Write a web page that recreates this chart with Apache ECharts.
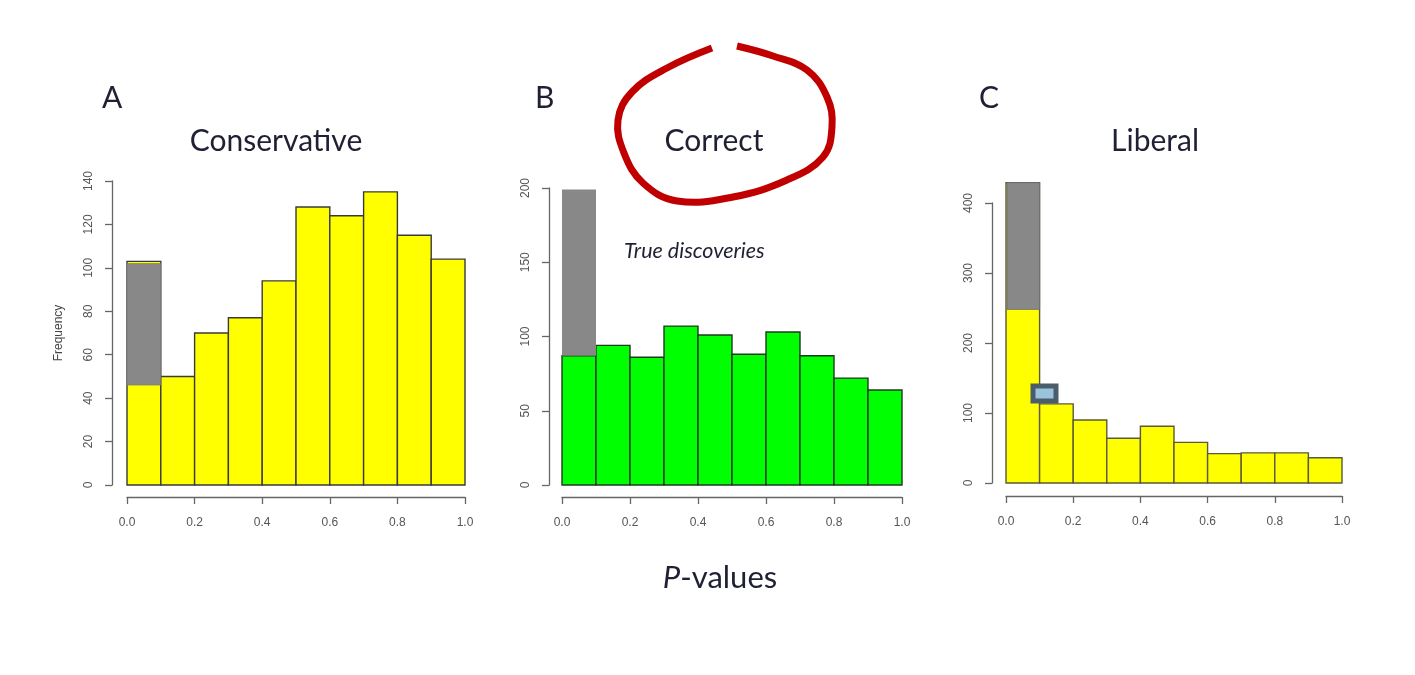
<!DOCTYPE html>
<html>
<head>
<meta charset="utf-8">
<script src="https://cdn.jsdelivr.net/npm/echarts@6/dist/echarts.min.js"></script>
<style>
  html, body { margin: 0; padding: 0; background: #fff; }
  #main { width: 1415px; height: 675px; }
</style>
</head>
<body>
<div id="main"></div>
<script>
// bins of width 0.1 on [0, 1]
var binStarts = [0.0, 0.1, 0.2, 0.3, 0.4, 0.5, 0.6, 0.7, 0.8, 0.9];

// A: conservative (first bin total, grey part drawn on top)
var consCounts = [103, 50, 70, 77, 94, 128, 124, 135, 115, 104];
var consTrue = [46, 102];

// B: correct (first bin green part, grey true discoveries above)
var corrCounts = [87, 94, 86, 107, 101, 88, 103, 87, 72, 64];
var corrTrue = [87, 199];

// C: liberal
var libCounts = [429, 113, 90, 64, 81, 58, 42, 43, 43, 36];
var libTrue = [248, 429];

var tickFont = 'Liberation Sans';
var titleFont = 'Lato';

function binData(counts) {
    return counts.map(function (c, i) {
        return [binStarts[i], binStarts[i] + 0.1, 0, c];
    });
}

function makeRender(stroke, lw) {
    return function (params, api) {
        var p0 = api.coord([api.value(0), api.value(3)]);
        var p1 = api.coord([api.value(1), api.value(2)]);
        return {
            type: 'rect',
            shape: { x: p0[0], y: p0[1], width: p1[0] - p0[0], height: p1[1] - p0[1] },
            style: { fill: api.visual('color'), stroke: stroke, lineWidth: lw }
        };
    };
}

function xAxisFor(gridIndex, offset, show) {
    return {
        type: 'value', gridIndex: gridIndex, min: 0, max: 1, interval: 0.2,
        show: show, offset: offset,
        splitLine: { show: false },
        axisLine: { onZero: false, lineStyle: { color: '#666', width: 1.3 } },
        axisTick: { length: 7, lineStyle: { color: '#666', width: 1.3 } },
        axisLabel: {
            margin: 20, color: '#555', fontSize: 12, fontFamily: tickFont,
            formatter: function (v) { return v.toFixed(1); }
        }
    };
}

function yAxisFor(gridIndex, max, interval, offset, show, name) {
    return {
        type: 'value', gridIndex: gridIndex, min: 0, max: max, interval: interval,
        show: show, offset: offset,
        name: name || '', nameLocation: 'middle', nameGap: 47, nameRotate: 90,
        nameTextStyle: { fontSize: 12, color: '#444', fontFamily: tickFont },
        splitLine: { show: false },
        axisLine: { show: true, onZero: false, lineStyle: { color: '#666', width: 1.3 } },
        axisTick: { show: true, length: 7, lineStyle: { color: '#666', width: 1.3 } },
        axisLabel: { rotate: 90, margin: 17, color: '#555', fontSize: 12, fontFamily: tickFont }
    };
}

var myChart = echarts.init(document.getElementById('main'));
var textColor = '#1f2033';

var option = {
    backgroundColor: '#fff',
    animation: false,
    grid: [
        { left: 127, top: 181, width: 338, height: 304 },
        { left: 562, top: 188, width: 340, height: 297 },
        { left: 1006, top: 182, width: 336, height: 301 },
        { left: 1006, top: 203, width: 336, height: 280 }
    ],
    xAxis: [
        xAxisFor(0, 12, true),
        xAxisFor(1, 12, true),
        xAxisFor(2, 13, true),
        xAxisFor(3, 13, false)
    ],
    yAxis: [
        yAxisFor(0, 140, 20, 15, true, 'Frequency'),
        yAxisFor(1, 200, 50, 13, true),
        yAxisFor(2, 430, 430, 14, false),
        yAxisFor(3, 400, 100, 14, true)
    ],
    series: [
        {
            type: 'custom', xAxisIndex: 0, yAxisIndex: 0,
            renderItem: makeRender('#3a3a3a', 1.4),
            itemStyle: { color: '#ffff00' },
            data: binData(consCounts)
        },
        {
            type: 'custom', xAxisIndex: 0, yAxisIndex: 0,
            renderItem: makeRender('#777', 0.6),
            itemStyle: { color: '#888888' },
            data: [[0, 0.1, consTrue[0], consTrue[1]]]
        },
        {
            type: 'custom', xAxisIndex: 1, yAxisIndex: 1,
            renderItem: makeRender('#1f3a1f', 1.4),
            itemStyle: { color: '#00ff00' },
            data: binData(corrCounts)
        },
        {
            type: 'custom', xAxisIndex: 1, yAxisIndex: 1,
            renderItem: makeRender('rgba(0,0,0,0)', 0),
            itemStyle: { color: '#888888' },
            data: [[0, 0.1, corrTrue[0], corrTrue[1]]]
        },
        {
            type: 'custom', xAxisIndex: 2, yAxisIndex: 2,
            renderItem: makeRender('#5a5a3a', 1.4),
            itemStyle: { color: '#ffff00' },
            data: binData(libCounts)
        },
        {
            type: 'custom', xAxisIndex: 2, yAxisIndex: 2,
            renderItem: makeRender('#6e6e6e', 0.8),
            itemStyle: { color: '#888888' },
            data: [[0.003, 0.1, libTrue[0], libTrue[1]]]
        }
    ],
    graphic: [
        { type: 'text', left: 102, top: 83, style: { text: 'A', fontSize: 30, fontFamily: titleFont, fill: textColor } },
        { type: 'text', left: 535, top: 83, style: { text: 'B', fontSize: 30, fontFamily: titleFont, fill: textColor } },
        { type: 'text', left: 979, top: 83, style: { text: 'C', fontSize: 30, fontFamily: titleFont, fill: textColor } },
        { type: 'text', x: 276, y: 141, style: { text: 'Conservative', fontSize: 30, fontFamily: titleFont, fill: textColor, align: 'center', verticalAlign: 'middle' } },
        { type: 'text', x: 714, y: 141, style: { text: 'Correct', fontSize: 30, fontFamily: titleFont, fill: textColor, align: 'center', verticalAlign: 'middle' } },
        { type: 'text', x: 1155, y: 141, style: { text: 'Liberal', fontSize: 30, fontFamily: titleFont, fill: textColor, align: 'center', verticalAlign: 'middle' } },
        { type: 'text', x: 624, y: 251, style: { text: 'True discoveries', fontSize: 21.5, fontStyle: 'italic', fontFamily: titleFont, fill: textColor, verticalAlign: 'middle' } },
        {
            type: 'text', x: 720, y: 578,
            style: {
                text: '{i|P}-values', fontSize: 31, fontFamily: titleFont, fill: textColor,
                align: 'center', verticalAlign: 'middle',
                rich: { i: { fontStyle: 'italic', fontSize: 31, fontFamily: titleFont, fill: textColor } }
            }
        },
        // red hand-drawn circle around "Correct"
        {
            type: 'polyline', silent: true, z: 100,
            shape: {
                smooth: 0.4,
                points: [[712, 48], [667, 68], [632, 92], [618, 120], [624, 153], [643, 183], [677, 201],
                         [733, 197], [787, 180], [823, 157], [832, 127], [827, 97], [807, 70], [773, 56], [737, 46]]
            },
            style: { stroke: '#c00000', lineWidth: 7, fill: null, lineCap: 'butt' }
        },
        // small highlight box in panel C
        {
            type: 'rect', silent: true, z: 100,
            shape: { x: 1033, y: 386, width: 23, height: 15 },
            style: { fill: '#9cc3dc', stroke: '#4b5d6a', lineWidth: 5 }
        }
    ]
};
myChart.setOption(option);
</script>
</body>
</html>
